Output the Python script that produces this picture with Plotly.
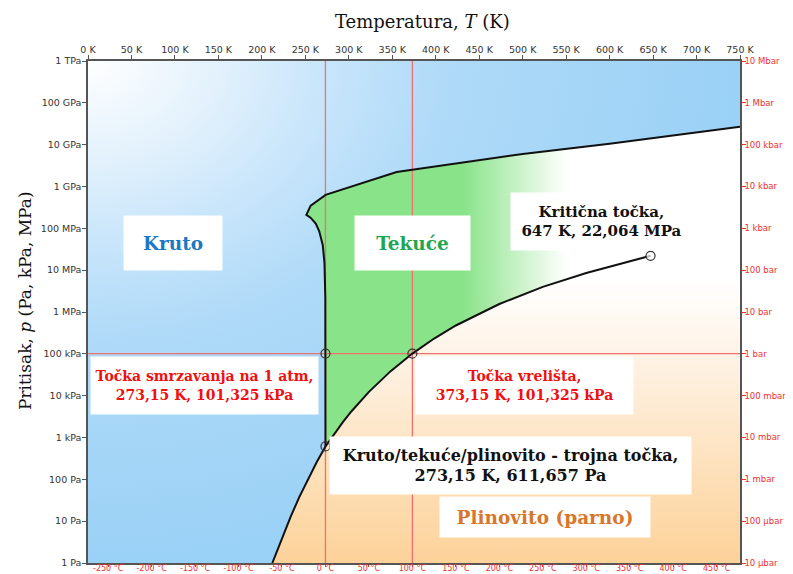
import plotly.graph_objects as go

# ---------------- data ----------------
T_MIN, T_MAX = 0.0, 750.0          # K
P_MIN, P_MAX = 1.0, 1e12           # Pa

# sublimation curve (ice / vapour)
sub_T = [212.0, 223.15, 233.15, 243.15, 253.15, 263.15, 273.16]
sub_p = [1.0, 3.94, 12.84, 38.0, 103.3, 259.9, 611.657]

# vaporisation curve (liquid / vapour) up to the critical point
vap_T = [273.16, 283.15, 293.15, 303.15, 323.15, 348.15, 373.15, 398.15,
         423.15, 473.15, 523.15, 573.15, 623.15, 647.096]
vap_p = [611.657, 1228, 2339, 4247, 12352, 38597, 101325, 232100,
         476200, 1554900, 3976200, 8587900, 16529000, 22064000]

# melting curve (solid / liquid)
melt_T = [273.16, 273.15, 273.0, 272.0, 270.0, 266.0, 262.0, 256.0, 251.165,
          256.164, 273.31, 355.0, 500.0, 600.0, 750.0]
melt_p = [611.657, 101325, 2.2e6, 1.5e7, 4.0e7, 8.5e7, 1.3e8, 1.8e8, 2.099e8,
          3.501e8, 6.324e8, 2.216e9, 6.0e9, 1.05e10, 2.7e10]

T_freeze, T_boil, p_atm = 273.15, 373.15, 101325.0
triple_T, triple_p = 273.16, 611.657
crit_T, crit_p = 647.096, 22.064e6

top_vals = list(range(0, 751, 50))
top_text = [f"{v} K" for v in top_vals]
celsius = list(range(-250, 451, 50))
bottom_vals = [c + 273.15 for c in celsius]
bottom_text = [f"{c} °C" for c in celsius]
p_vals = [10.0 ** k for k in range(0, 13)]
left_text = ["1 Pa", "10 Pa", "100 Pa", "1 kPa", "10 kPa", "100 kPa", "1 MPa",
             "10 MPa", "100 MPa", "1 GPa", "10 GPa", "100 GPa", "1 TPa"]
right_text = ["10 µbar", "100 µbar", "1 mbar", "10 mbar", "100 mbar", "1 bar",
              "10 bar", "100 bar", "1 kbar", "10 kbar", "100 kbar", "1 Mbar", "10 Mbar"]

# ---------------- figure ----------------
fig = go.Figure()

# solid background (radial gradient from top-left corner)
span_T = T_MAX - T_MIN
bg_x = [T_MIN - span_T, T_MAX, T_MAX, T_MIN - span_T, T_MIN - span_T]
bg_y = [P_MIN, P_MIN, P_MAX ** 2 / P_MIN, P_MAX ** 2 / P_MIN, P_MIN]
fig.add_trace(go.Scatter(
    x=bg_x, y=bg_y, mode="none", fill="toself", hoverinfo="skip",
    fillgradient=dict(type="radial",
                      colorscale=[[0, "#ffffff"], [0.2, "#e2f1fc"], [0.35, "#cae6fb"],
                                  [0.55, "#afdaf8"], [1, "#9ad1f6"]]),
    showlegend=False))

# fluid region (gas + supercritical), orange -> white vertically
fl_x = sub_T + melt_T[1:] + [T_MAX]
fl_y = sub_p + melt_p[1:] + [P_MIN]
fig.add_trace(go.Scatter(
    x=fl_x, y=fl_y, mode="none", fill="toself", hoverinfo="skip",
    fillgradient=dict(type="vertical",
                      colorscale=[[0, "#fdd29a"], [0.15, "#fddcb0"],
                                  [0.45, "#fef1e2"], [0.65, "#ffffff"], [1, "#ffffff"]]),
    showlegend=False))

# liquid region, green fading horizontally
lq_x = melt_T + vap_T[::-1]
lq_y = melt_p + vap_p[::-1]
fig.add_trace(go.Scatter(
    x=lq_x, y=lq_y, mode="none", fill="toself", hoverinfo="skip",
    fillgradient=dict(type="horizontal",
                      colorscale=[[0, "rgba(137,227,137,1)"], [0.36, "rgba(137,227,137,1)"],
                                  [0.6, "rgba(137,227,137,0)"], [1, "rgba(137,227,137,0)"]]),
    showlegend=False))

# red reference lines
red = "#f07070"
fig.add_trace(go.Scatter(x=[T_freeze, T_freeze], y=[P_MIN, P_MAX], mode="lines",
                         line=dict(color=red, width=1.3), hoverinfo="skip", showlegend=False))
fig.add_trace(go.Scatter(x=[T_boil, T_boil], y=[P_MIN, P_MAX], mode="lines",
                         line=dict(color=red, width=1.3), hoverinfo="skip", showlegend=False))
fig.add_trace(go.Scatter(x=[T_MIN, T_MAX], y=[p_atm, p_atm], mode="lines",
                         line=dict(color=red, width=1.3), hoverinfo="skip", showlegend=False))

# phase boundaries
fig.add_trace(go.Scatter(x=sub_T + vap_T[1:], y=sub_p + vap_p[1:], mode="lines",
                         line=dict(color="#111", width=2), hoverinfo="skip", showlegend=False))
fig.add_trace(go.Scatter(x=melt_T, y=melt_p, mode="lines",
                         line=dict(color="#111", width=2), hoverinfo="skip", showlegend=False))

# special points
fig.add_trace(go.Scatter(
    x=[T_freeze, T_boil, triple_T], y=[p_atm, p_atm, triple_p], mode="markers",
    marker=dict(symbol="circle-open", size=9, color="#333", line=dict(width=1.2)),
    showlegend=False))
fig.add_trace(go.Scatter(
    x=[crit_T], y=[crit_p], mode="markers",
    marker=dict(symbol="circle", size=9, color="rgba(255,255,255,0.7)",
                line=dict(width=1.2, color="#333")),
    showlegend=False))

# dummy traces so secondary axes are drawn
fig.add_trace(go.Scatter(x=[crit_T], y=[crit_p], xaxis="x2", yaxis="y", mode="markers",
                         marker=dict(opacity=0), hoverinfo="skip", showlegend=False))
fig.add_trace(go.Scatter(x=[crit_T], y=[crit_p], xaxis="x", yaxis="y2", mode="markers",
                         marker=dict(opacity=0), hoverinfo="skip", showlegend=False))

axis_grey = "#555"
tick_font = dict(family="DejaVu Sans", size=9.5, color="#333")
red_font = dict(family="DejaVu Sans", size=8.5, color="#f03030")
bottom_font = dict(family="DejaVu Sans", size=8, color="#f03030")

# page body has an 8px default margin; compensate so the plot area sits at
# x 88..740, y 61..563 in the 793x574 window
PAGE_OFF = 8
fig.update_layout(
    width=793 - PAGE_OFF, height=574 - PAGE_OFF,
    margin=dict(l=88 - PAGE_OFF, r=53, t=61 - PAGE_OFF, b=11),
    paper_bgcolor="white", plot_bgcolor="white",
    xaxis=dict(range=[T_MIN, T_MAX], side="top", tickvals=top_vals, ticktext=top_text,
               ticks="outside", ticklen=4, tickcolor=axis_grey, tickfont=tick_font,
               ticklabelstandoff=-2,
               showgrid=False, zeroline=False, showline=True, linecolor=axis_grey,
               linewidth=1.5, automargin=False),
    xaxis2=dict(range=[T_MIN, T_MAX], side="bottom", overlaying="x", anchor="y",
                tickvals=bottom_vals, ticktext=bottom_text, ticks="outside", ticklen=2,
                ticklabelstandoff=-5,
                tickcolor="#f03030", tickfont=bottom_font, showgrid=False, zeroline=False,
                showline=True, linecolor=axis_grey, linewidth=1.5, automargin=False),
    yaxis=dict(type="log", range=[0, 12], tickvals=p_vals, ticktext=left_text,
               ticks="outside", ticklen=4, tickcolor=axis_grey, tickfont=tick_font,
               ticklabelstandoff=-1,
               showgrid=False, zeroline=False, showline=True, linecolor=axis_grey,
               linewidth=1.5, automargin=False),
    yaxis2=dict(type="log", range=[0, 12], side="right", overlaying="y", anchor="x",
                tickvals=p_vals, ticktext=right_text, ticks="outside", ticklen=4,
                ticklabelstandoff=-3,
                tickcolor="#f03030", tickfont=red_font, showgrid=False, zeroline=False,
                showline=True, linecolor=axis_grey, linewidth=1.5, automargin=False),
)

serif = "DejaVu Serif"

def px2paper(px, py):
    return (px - 88) / 652.0, (563 - py) / 502.0

labels = [
    ("<b>Kruto</b>", 173, 243, 98, 54, 18.5, "#1b78c4"),
    ("<b>Tekuće</b>", 412.5, 243, 115, 54, 18.5, "#1fa653"),
    ("<b>Kritična točka,<br>647 K, 22,064 MPa</b>", 601, 221.5, 181, 57, 15, "#111"),
    ("<b>Točka smrzavanja na 1 atm,<br>273,15 K, 101,325 kPa</b>", 204.5, 385.5, 227, 57, 14, "#f01010"),
    ("<b>Točka vrelišta,<br>373,15 K, 101,325 kPa</b>", 524.5, 385.5, 217, 57, 14, "#f01010"),
    ("<b>Kruto/tekuće/plinovito - trojna točka,<br>273,15 K, 611,657 Pa</b>", 510.5, 465.5, 361, 57, 16, "#111"),
    ("<b>Plinovito (parno)</b>", 545, 517, 210, 40, 18.5, "#d8762a"),
]
for text, cx, cy, w, h, size, color in labels:
    xp, yp = px2paper(cx, cy)
    fig.add_annotation(x=xp, y=yp, xref="paper", yref="paper", text=text,
                       showarrow=False, xanchor="center", yanchor="middle",
                       width=w, height=h, bgcolor="white", borderpad=0,
                       font=dict(family=serif, size=size, color=color))

# axis titles
xp, yp = px2paper(422, 21)
fig.add_annotation(x=xp, y=yp, xref="paper", yref="paper", showarrow=False,
                   text="Temperatura, <i>T</i> (K)", xanchor="center", yanchor="middle",
                   font=dict(family=serif, size=18, color="#111"))
xp, yp = px2paper(25, 301)
fig.add_annotation(x=xp, y=yp, xref="paper", yref="paper", showarrow=False,
                   text="Pritisak, <i>p</i> (Pa, kPa, MPa)", textangle=-90,
                   xanchor="center", yanchor="middle",
                   font=dict(family=serif, size=17, color="#111"))

fig.write_html("out.html")
